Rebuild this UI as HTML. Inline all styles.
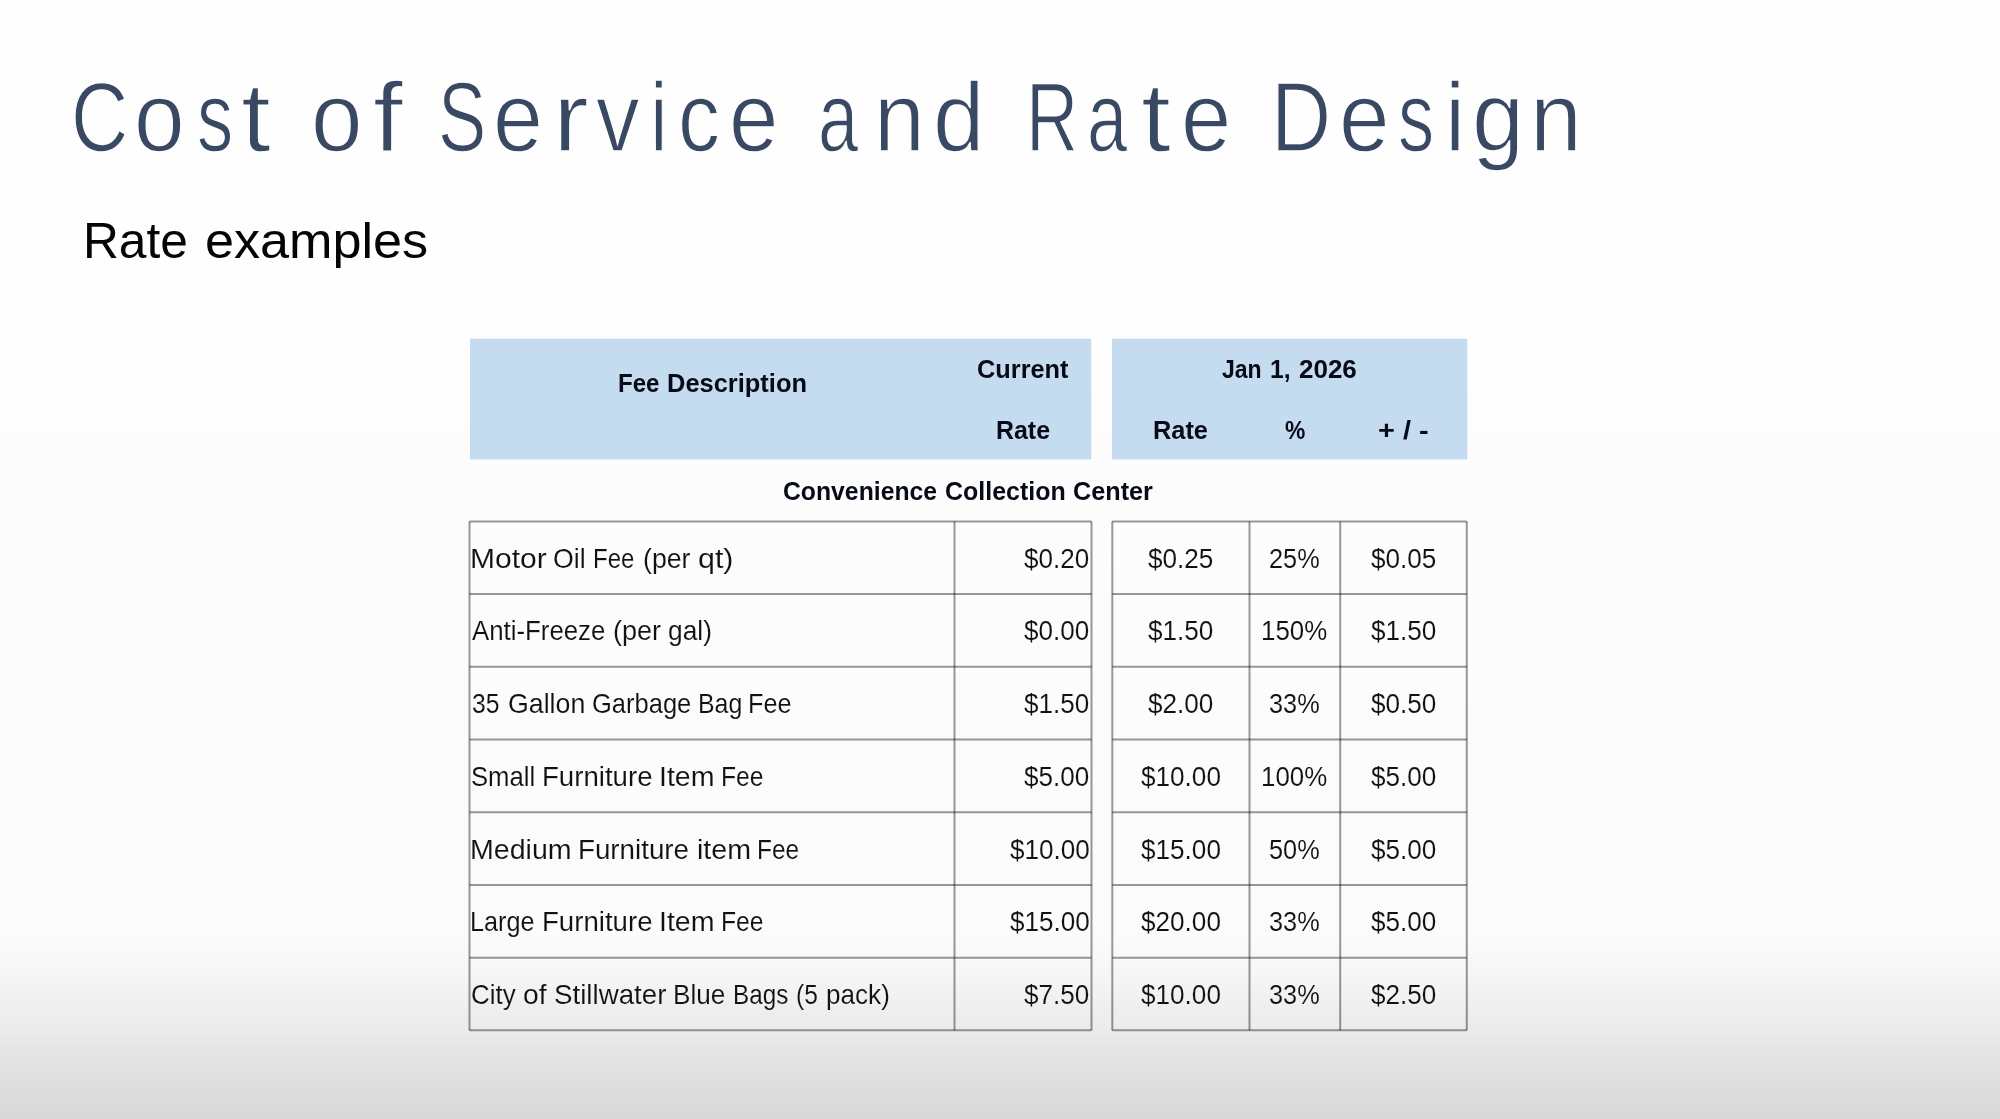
<!DOCTYPE html><html><head><meta charset="utf-8"><title>Cost of Service and Rate Design</title><style>
html,body{margin:0;padding:0}
body{width:2000px;height:1119px;overflow:hidden;position:relative;background:#fefefe;font-family:"Liberation Sans",sans-serif}
.bg{position:absolute;left:0;top:0;width:2000px;height:1119px;background:linear-gradient(to bottom,#fefefe 0,#fefefe 330px,#fdfdfd 360px,#fcfcfc 620px,#fbfbfb 900px,#fbfbfb 935px,#f8f8f8 960px,#f5f5f5 980px,#efefef 1005px,#ebebeb 1030px,#e4e4e4 1055px,#dedede 1080px,#dbdbdb 1105px,#d8d8d8 1119px)}
.soft{position:absolute;left:0;top:0;width:2000px;height:1119px;filter:blur(0.7px)}
.g{position:absolute;left:0;top:0}
.t{position:absolute;white-space:nowrap;line-height:1;transform-origin:0 0;display:block}
.b{font-weight:bold}

</style></head><body><div class="bg"></div>
<div class="soft">
<svg class="g" width="2000" height="1119" viewBox="0 0 2000 1119">
<rect x="470" y="338.7" width="621.2" height="120.7" fill="#c5dbef"/>
<rect x="1112" y="338.7" width="355.2" height="120.7" fill="#c5dbef"/>
<g stroke="#000" stroke-opacity="0.40" stroke-width="2.00" fill="none">
<path d="M469.50 521.40H1091.50"/>
<path d="M1112.30 521.40H1466.80"/>
<path d="M469.50 594.11H1091.50"/>
<path d="M1112.30 594.11H1466.80"/>
<path d="M469.50 666.82H1091.50"/>
<path d="M1112.30 666.82H1466.80"/>
<path d="M469.50 739.53H1091.50"/>
<path d="M1112.30 739.53H1466.80"/>
<path d="M469.50 812.24H1091.50"/>
<path d="M1112.30 812.24H1466.80"/>
<path d="M469.50 884.95H1091.50"/>
<path d="M1112.30 884.95H1466.80"/>
<path d="M469.50 957.66H1091.50"/>
<path d="M1112.30 957.66H1466.80"/>
<path d="M469.50 1030.37H1091.50"/>
<path d="M1112.30 1030.37H1466.80"/>
<path d="M469.50 521.40V1030.37"/>
<path d="M954.50 521.40V1030.37"/>
<path d="M1091.50 521.40V1030.37"/>
<path d="M1112.30 521.40V1030.37"/>
<path d="M1249.50 521.40V1030.37"/>
<path d="M1340.20 521.40V1030.37"/>
<path d="M1466.80 521.40V1030.37"/>
</g></svg>
<div id="t0" class="t" style="left:71.19px;top:68.92px;font-size:97.68px;color:#3a4963;transform:scaleX(0.8117);-webkit-text-stroke:1.4px #fefefe">C</div>
<div id="t1" class="t" style="left:134.37px;top:68.92px;font-size:97.68px;color:#3a4963;transform:scaleX(0.9320);-webkit-text-stroke:1.4px #fefefe">o</div>
<div id="t2" class="t" style="left:197.24px;top:68.92px;font-size:97.68px;color:#3a4963;transform:scaleX(0.7400);-webkit-text-stroke:1.4px #fefefe">s</div>
<div id="t3" class="t" style="left:241.47px;top:68.92px;font-size:97.68px;color:#3a4963;transform:scaleX(1.1000);-webkit-text-stroke:1.4px #fefefe">t</div>
<div id="t4" class="t" style="left:311.04px;top:68.92px;font-size:97.68px;color:#3a4963;transform:scaleX(0.9485);-webkit-text-stroke:1.4px #fefefe">o</div>
<div id="t5" class="t" style="left:372.80px;top:68.92px;font-size:97.68px;color:#3a4963;transform:scaleX(1.1000);-webkit-text-stroke:1.4px #fefefe">f</div>
<div id="t6" class="t" style="left:438.45px;top:68.92px;font-size:97.68px;color:#3a4963;transform:scaleX(0.7400);-webkit-text-stroke:1.4px #fefefe">S</div>
<div id="t7" class="t" style="left:493.48px;top:68.92px;font-size:97.68px;color:#3a4963;transform:scaleX(0.9182);-webkit-text-stroke:1.4px #fefefe">e</div>
<div id="t8" class="t" style="left:552.77px;top:68.92px;font-size:97.68px;color:#3a4963;transform:scaleX(1.1000);-webkit-text-stroke:1.4px #fefefe">r</div>
<div id="t9" class="t" style="left:596.38px;top:68.92px;font-size:97.68px;color:#3a4963;transform:scaleX(0.8929);-webkit-text-stroke:1.4px #fefefe">v</div>
<div id="t10" class="t" style="left:650.05px;top:68.92px;font-size:97.68px;color:#3a4963;transform:scaleX(0.8140);-webkit-text-stroke:1.4px #fefefe">i</div>
<div id="t11" class="t" style="left:677.71px;top:68.92px;font-size:97.68px;color:#3a4963;transform:scaleX(0.8594);-webkit-text-stroke:1.4px #fefefe">c</div>
<div id="t12" class="t" style="left:729.48px;top:68.92px;font-size:97.68px;color:#3a4963;transform:scaleX(0.9081);-webkit-text-stroke:1.4px #fefefe">e</div>
<div id="t13" class="t" style="left:817.54px;top:68.92px;font-size:97.68px;color:#3a4963;transform:scaleX(0.7400);-webkit-text-stroke:1.4px #fefefe">a</div>
<div id="t14" class="t" style="left:873.73px;top:68.92px;font-size:97.68px;color:#3a4963;transform:scaleX(0.9360);-webkit-text-stroke:1.4px #fefefe">n</div>
<div id="t15" class="t" style="left:933.05px;top:68.92px;font-size:97.68px;color:#3a4963;transform:scaleX(0.9461);-webkit-text-stroke:1.4px #fefefe">d</div>
<div id="t16" class="t" style="left:1025.99px;top:68.92px;font-size:97.68px;color:#3a4963;transform:scaleX(0.7400);-webkit-text-stroke:1.4px #fefefe">R</div>
<div id="t17" class="t" style="left:1086.92px;top:68.92px;font-size:97.68px;color:#3a4963;transform:scaleX(0.7400);-webkit-text-stroke:1.4px #fefefe">a</div>
<div id="t18" class="t" style="left:1140.85px;top:68.92px;font-size:97.68px;color:#3a4963;transform:scaleX(1.1000);-webkit-text-stroke:1.4px #fefefe">t</div>
<div id="t19" class="t" style="left:1180.65px;top:68.92px;font-size:97.68px;color:#3a4963;transform:scaleX(0.9249);-webkit-text-stroke:1.4px #fefefe">e</div>
<div id="t20" class="t" style="left:1270.58px;top:68.92px;font-size:97.68px;color:#3a4963;transform:scaleX(0.8525);-webkit-text-stroke:1.4px #fefefe">D</div>
<div id="t21" class="t" style="left:1338.63px;top:68.92px;font-size:97.68px;color:#3a4963;transform:scaleX(0.9305);-webkit-text-stroke:1.4px #fefefe">e</div>
<div id="t22" class="t" style="left:1397.87px;top:68.92px;font-size:97.68px;color:#3a4963;transform:scaleX(0.7400);-webkit-text-stroke:1.4px #fefefe">s</div>
<div id="t23" class="t" style="left:1444.52px;top:68.92px;font-size:97.68px;color:#3a4963;transform:scaleX(0.9302);-webkit-text-stroke:1.4px #fefefe">i</div>
<div id="t24" class="t" style="left:1471.75px;top:68.92px;font-size:97.68px;color:#3a4963;transform:scaleX(0.9576);-webkit-text-stroke:1.4px #fefefe">g</div>
<div id="t25" class="t" style="left:1529.86px;top:68.92px;font-size:97.68px;color:#3a4963;transform:scaleX(0.9544);-webkit-text-stroke:1.4px #fefefe">n</div>
<div id="t26" class="t" style="left:83.46px;top:217.16px;font-size:49.13px;color:#050505;transform:scaleX(1.0110)">Rate</div>
<div id="t27" class="t" style="left:204.88px;top:217.16px;font-size:49.13px;color:#050505;transform:scaleX(1.0611)">examples</div>
<div id="t28" class="t b" style="left:617.83px;top:369.63px;font-size:26.31px;color:#070b17;transform:scaleX(0.9156)">Fee</div>
<div id="t29" class="t b" style="left:666.53px;top:369.63px;font-size:26.31px;color:#070b17;transform:scaleX(0.9678)">Description</div>
<div id="t30" class="t b" style="left:976.54px;top:356.48px;font-size:26.31px;color:#070b17;transform:scaleX(0.9633)">Current</div>
<div id="t31" class="t b" style="left:996.05px;top:416.98px;font-size:26.31px;color:#070b17;transform:scaleX(0.9481)">Rate</div>
<div id="t32" class="t b" style="left:1221.70px;top:356.48px;font-size:26.31px;color:#070b17;transform:scaleX(0.8746)">Jan</div>
<div id="t33" class="t b" style="left:1269.66px;top:356.48px;font-size:26.31px;color:#070b17;transform:scaleX(0.9376)">1,</div>
<div id="t34" class="t b" style="left:1299.00px;top:356.48px;font-size:26.31px;color:#070b17;transform:scaleX(0.9883)">2026</div>
<div id="t35" class="t b" style="left:1153.04px;top:416.98px;font-size:26.31px;color:#070b17;transform:scaleX(0.9644)">Rate</div>
<div id="t36" class="t b" style="left:1284.70px;top:416.98px;font-size:26.31px;color:#070b17;transform:scaleX(0.8696)">%</div>
<div id="t37" class="t b" style="left:1377.90px;top:416.98px;font-size:26.31px;color:#070b17;transform:scaleX(1.0999)">+ / -</div>
<div id="t38" class="t b" style="left:782.81px;top:477.73px;font-size:26.31px;color:#070b17;transform:scaleX(0.9411)">Convenience</div>
<div id="t39" class="t b" style="left:945.30px;top:477.73px;font-size:26.31px;color:#070b17;transform:scaleX(0.9497)">Collection</div>
<div id="t40" class="t b" style="left:1073.44px;top:477.73px;font-size:26.31px;color:#070b17;transform:scaleX(0.9590)">Center</div>
<div id="t41" class="t" style="left:469.76px;top:544.75px;font-size:27.47px;color:#111;transform:scaleX(1.0924);-webkit-text-stroke:0.1px #fefefe">Motor</div>
<div id="t42" class="t" style="left:553.48px;top:544.75px;font-size:27.47px;color:#111;transform:scaleX(0.9723);-webkit-text-stroke:0.1px #fefefe">Oil</div>
<div id="t43" class="t" style="left:592.71px;top:544.75px;font-size:27.47px;color:#111;transform:scaleX(0.8731);-webkit-text-stroke:0.1px #fefefe">Fee</div>
<div id="t44" class="t" style="left:642.73px;top:544.75px;font-size:27.47px;color:#111;transform:scaleX(0.9716);-webkit-text-stroke:0.1px #fefefe">(per</div>
<div id="t45" class="t" style="left:697.59px;top:544.75px;font-size:27.47px;color:#111;transform:scaleX(1.1071);-webkit-text-stroke:0.1px #fefefe">qt)</div>
<div id="t46" class="t" style="left:1024.43px;top:544.75px;font-size:27.47px;color:#111;transform:scaleX(0.9483);-webkit-text-stroke:0.1px #fefefe">$0.20</div>
<div id="t47" class="t" style="left:1148.14px;top:544.75px;font-size:27.47px;color:#111;transform:scaleX(0.9512);-webkit-text-stroke:0.1px #fefefe">$0.25</div>
<div id="t48" class="t" style="left:1269.23px;top:544.75px;font-size:27.47px;color:#111;transform:scaleX(0.9206);-webkit-text-stroke:0.1px #fefefe">25%</div>
<div id="t49" class="t" style="left:1370.74px;top:544.75px;font-size:27.47px;color:#111;transform:scaleX(0.9512);-webkit-text-stroke:0.1px #fefefe">$0.05</div>
<div id="t50" class="t" style="left:471.95px;top:617.46px;font-size:27.47px;color:#111;transform:scaleX(0.9393);-webkit-text-stroke:0.1px #fefefe">Anti-Freeze</div>
<div id="t51" class="t" style="left:613.47px;top:617.46px;font-size:27.47px;color:#111;transform:scaleX(0.9821);-webkit-text-stroke:0.1px #fefefe">(per</div>
<div id="t52" class="t" style="left:668.49px;top:617.46px;font-size:27.47px;color:#111;transform:scaleX(0.9585);-webkit-text-stroke:0.1px #fefefe">gal)</div>
<div id="t53" class="t" style="left:1024.43px;top:617.46px;font-size:27.47px;color:#111;transform:scaleX(0.9483);-webkit-text-stroke:0.1px #fefefe">$0.00</div>
<div id="t54" class="t" style="left:1148.14px;top:617.46px;font-size:27.47px;color:#111;transform:scaleX(0.9512);-webkit-text-stroke:0.1px #fefefe">$1.50</div>
<div id="t55" class="t" style="left:1260.99px;top:617.46px;font-size:27.47px;color:#111;transform:scaleX(0.9413);-webkit-text-stroke:0.1px #fefefe">150%</div>
<div id="t56" class="t" style="left:1370.74px;top:617.46px;font-size:27.47px;color:#111;transform:scaleX(0.9512);-webkit-text-stroke:0.1px #fefefe">$1.50</div>
<div id="t57" class="t" style="left:471.56px;top:690.17px;font-size:27.47px;color:#111;transform:scaleX(0.8997);-webkit-text-stroke:0.1px #fefefe">35</div>
<div id="t58" class="t" style="left:507.73px;top:690.17px;font-size:27.47px;color:#111;transform:scaleX(0.9737);-webkit-text-stroke:0.1px #fefefe">Gallon</div>
<div id="t59" class="t" style="left:591.52px;top:690.17px;font-size:27.47px;color:#111;transform:scaleX(0.9287);-webkit-text-stroke:0.1px #fefefe">Garbage</div>
<div id="t60" class="t" style="left:698.14px;top:690.17px;font-size:27.47px;color:#111;transform:scaleX(0.9066);-webkit-text-stroke:0.1px #fefefe">Bag</div>
<div id="t61" class="t" style="left:748.12px;top:690.17px;font-size:27.47px;color:#111;transform:scaleX(0.9176);-webkit-text-stroke:0.1px #fefefe">Fee</div>
<div id="t62" class="t" style="left:1024.43px;top:690.17px;font-size:27.47px;color:#111;transform:scaleX(0.9483);-webkit-text-stroke:0.1px #fefefe">$1.50</div>
<div id="t63" class="t" style="left:1148.14px;top:690.17px;font-size:27.47px;color:#111;transform:scaleX(0.9512);-webkit-text-stroke:0.1px #fefefe">$2.00</div>
<div id="t64" class="t" style="left:1269.23px;top:690.17px;font-size:27.47px;color:#111;transform:scaleX(0.9206);-webkit-text-stroke:0.1px #fefefe">33%</div>
<div id="t65" class="t" style="left:1370.74px;top:690.17px;font-size:27.47px;color:#111;transform:scaleX(0.9512);-webkit-text-stroke:0.1px #fefefe">$0.50</div>
<div id="t66" class="t" style="left:470.62px;top:762.88px;font-size:27.47px;color:#111;transform:scaleX(0.9341);-webkit-text-stroke:0.1px #fefefe">Small</div>
<div id="t67" class="t" style="left:541.54px;top:762.88px;font-size:27.47px;color:#111;transform:scaleX(1.0052);-webkit-text-stroke:0.1px #fefefe">Furniture</div>
<div id="t68" class="t" style="left:658.87px;top:762.88px;font-size:27.47px;color:#111;transform:scaleX(1.0389);-webkit-text-stroke:0.1px #fefefe">Item</div>
<div id="t69" class="t" style="left:720.86px;top:762.88px;font-size:27.47px;color:#111;transform:scaleX(0.8987);-webkit-text-stroke:0.1px #fefefe">Fee</div>
<div id="t70" class="t" style="left:1024.43px;top:762.88px;font-size:27.47px;color:#111;transform:scaleX(0.9483);-webkit-text-stroke:0.1px #fefefe">$5.00</div>
<div id="t71" class="t" style="left:1140.87px;top:762.88px;font-size:27.47px;color:#111;transform:scaleX(0.9514);-webkit-text-stroke:0.1px #fefefe">$10.00</div>
<div id="t72" class="t" style="left:1260.99px;top:762.88px;font-size:27.47px;color:#111;transform:scaleX(0.9413);-webkit-text-stroke:0.1px #fefefe">100%</div>
<div id="t73" class="t" style="left:1370.74px;top:762.88px;font-size:27.47px;color:#111;transform:scaleX(0.9512);-webkit-text-stroke:0.1px #fefefe">$5.00</div>
<div id="t74" class="t" style="left:469.87px;top:835.59px;font-size:27.47px;color:#111;transform:scaleX(1.0400);-webkit-text-stroke:0.1px #fefefe">Medium</div>
<div id="t75" class="t" style="left:577.73px;top:835.59px;font-size:27.47px;color:#111;transform:scaleX(1.0099);-webkit-text-stroke:0.1px #fefefe">Furniture</div>
<div id="t76" class="t" style="left:696.91px;top:835.59px;font-size:27.47px;color:#111;transform:scaleX(1.0419);-webkit-text-stroke:0.1px #fefefe">item</div>
<div id="t77" class="t" style="left:757.18px;top:835.59px;font-size:27.47px;color:#111;transform:scaleX(0.8875);-webkit-text-stroke:0.1px #fefefe">Fee</div>
<div id="t78" class="t" style="left:1009.88px;top:835.59px;font-size:27.47px;color:#111;transform:scaleX(0.9490);-webkit-text-stroke:0.1px #fefefe">$10.00</div>
<div id="t79" class="t" style="left:1140.87px;top:835.59px;font-size:27.47px;color:#111;transform:scaleX(0.9514);-webkit-text-stroke:0.1px #fefefe">$15.00</div>
<div id="t80" class="t" style="left:1269.23px;top:835.59px;font-size:27.47px;color:#111;transform:scaleX(0.9206);-webkit-text-stroke:0.1px #fefefe">50%</div>
<div id="t81" class="t" style="left:1370.74px;top:835.59px;font-size:27.47px;color:#111;transform:scaleX(0.9512);-webkit-text-stroke:0.1px #fefefe">$5.00</div>
<div id="t82" class="t" style="left:470.12px;top:908.30px;font-size:27.47px;color:#111;transform:scaleX(0.9178);-webkit-text-stroke:0.1px #fefefe">Large</div>
<div id="t83" class="t" style="left:541.54px;top:908.30px;font-size:27.47px;color:#111;transform:scaleX(1.0052);-webkit-text-stroke:0.1px #fefefe">Furniture</div>
<div id="t84" class="t" style="left:658.87px;top:908.30px;font-size:27.47px;color:#111;transform:scaleX(1.0389);-webkit-text-stroke:0.1px #fefefe">Item</div>
<div id="t85" class="t" style="left:720.86px;top:908.30px;font-size:27.47px;color:#111;transform:scaleX(0.8987);-webkit-text-stroke:0.1px #fefefe">Fee</div>
<div id="t86" class="t" style="left:1009.88px;top:908.30px;font-size:27.47px;color:#111;transform:scaleX(0.9490);-webkit-text-stroke:0.1px #fefefe">$15.00</div>
<div id="t87" class="t" style="left:1140.87px;top:908.30px;font-size:27.47px;color:#111;transform:scaleX(0.9514);-webkit-text-stroke:0.1px #fefefe">$20.00</div>
<div id="t88" class="t" style="left:1269.23px;top:908.30px;font-size:27.47px;color:#111;transform:scaleX(0.9206);-webkit-text-stroke:0.1px #fefefe">33%</div>
<div id="t89" class="t" style="left:1370.74px;top:908.30px;font-size:27.47px;color:#111;transform:scaleX(0.9512);-webkit-text-stroke:0.1px #fefefe">$5.00</div>
<div id="t90" class="t" style="left:470.61px;top:981.01px;font-size:27.47px;color:#111;transform:scaleX(0.9447);-webkit-text-stroke:0.1px #fefefe">City</div>
<div id="t91" class="t" style="left:523.22px;top:981.01px;font-size:27.47px;color:#111;transform:scaleX(1.0281);-webkit-text-stroke:0.1px #fefefe">of</div>
<div id="t92" class="t" style="left:554.14px;top:981.01px;font-size:27.47px;color:#111;transform:scaleX(1.0092);-webkit-text-stroke:0.1px #fefefe">Stillwater</div>
<div id="t93" class="t" style="left:673.35px;top:981.01px;font-size:27.47px;color:#111;transform:scaleX(0.9525);-webkit-text-stroke:0.1px #fefefe">Blue</div>
<div id="t94" class="t" style="left:732.99px;top:981.01px;font-size:27.47px;color:#111;transform:scaleX(0.8833);-webkit-text-stroke:0.1px #fefefe">Bags</div>
<div id="t95" class="t" style="left:796.36px;top:981.01px;font-size:27.47px;color:#111;transform:scaleX(0.8938);-webkit-text-stroke:0.1px #fefefe">(5</div>
<div id="t96" class="t" style="left:826.30px;top:981.01px;font-size:27.47px;color:#111;transform:scaleX(0.9504);-webkit-text-stroke:0.1px #fefefe">pack)</div>
<div id="t97" class="t" style="left:1024.43px;top:981.01px;font-size:27.47px;color:#111;transform:scaleX(0.9483);-webkit-text-stroke:0.1px #fefefe">$7.50</div>
<div id="t98" class="t" style="left:1140.87px;top:981.01px;font-size:27.47px;color:#111;transform:scaleX(0.9514);-webkit-text-stroke:0.1px #fefefe">$10.00</div>
<div id="t99" class="t" style="left:1269.23px;top:981.01px;font-size:27.47px;color:#111;transform:scaleX(0.9206);-webkit-text-stroke:0.1px #fefefe">33%</div>
<div id="t100" class="t" style="left:1370.74px;top:981.01px;font-size:27.47px;color:#111;transform:scaleX(0.9512);-webkit-text-stroke:0.1px #fefefe">$2.50</div>
</div></body></html>
